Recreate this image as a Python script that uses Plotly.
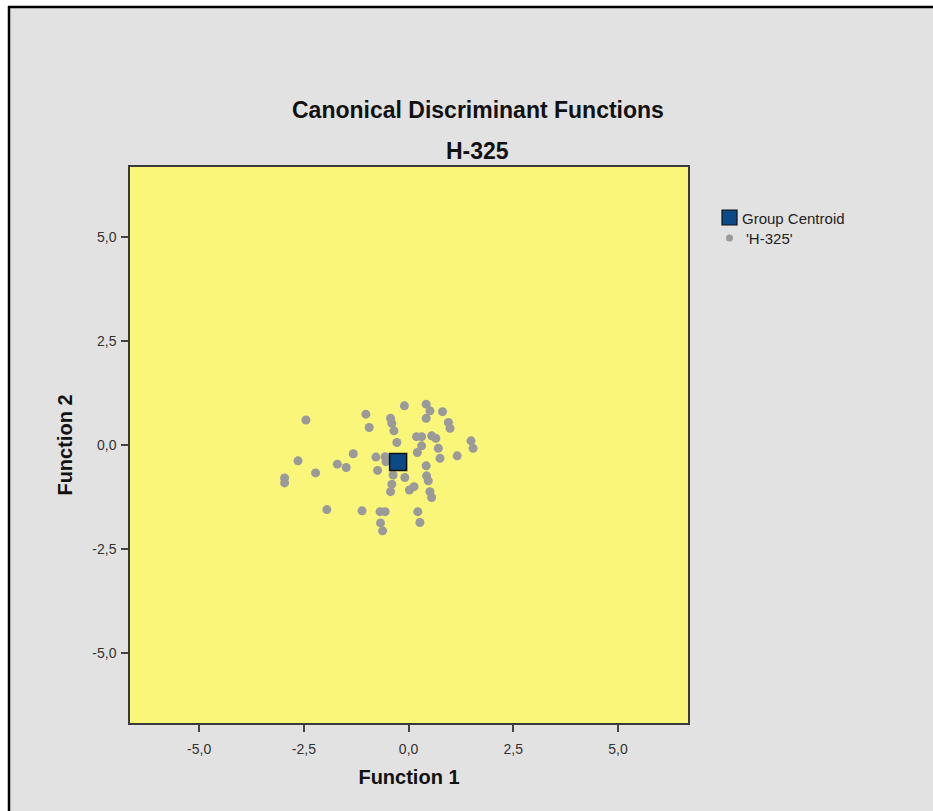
import plotly.graph_objects as go

# Data (discriminant scores, H-325 group)
func1 = [-2.45, -1.02, -0.94, -1.32, -2.64, -1.70, -1.49, -2.22, -2.96, -2.96,
         -1.95, -1.11, -0.68, -0.56, -0.67, -0.62, -0.74, -0.78, -0.56,
         -0.10, 0.42, 0.51, 0.81, -0.43, -0.40, 0.42, 0.95, 0.99, -0.35,
         0.19, 0.31, 0.55, 0.65, -0.28, 1.49, 1.54, 0.31, 0.21, 0.71,
         0.75, 1.16, -0.54, -0.37, -0.09, 0.42, 0.43, 0.47, -0.40, -0.43,
         0.02, 0.13, 0.51, 0.55, 0.22, 0.27]
func2 = [0.60, 0.74, 0.42, -0.21, -0.38, -0.46, -0.54, -0.67, -0.79, -0.91,
         -1.55, -1.58, -1.60, -1.60, -1.87, -2.06, -0.61, -0.29, -0.28,
         0.94, 0.98, 0.82, 0.80, 0.64, 0.52, 0.64, 0.54, 0.40, 0.34,
         0.20, 0.20, 0.22, 0.16, 0.06, 0.10, -0.08, -0.02, -0.18, -0.08,
         -0.32, -0.26, -0.40, -0.72, -0.78, -0.50, -0.74, -0.86, -0.94, -1.12,
         -1.08, -1.00, -1.12, -1.26, -1.60, -1.86]
centroid_x = [-0.25]
centroid_y = [-0.41]

tick_vals = [-5.0, -2.5, 0.0, 2.5, 5.0]
tick_text = ["-5,0", "-2,5", "0,0", "2,5", "5,0"]
legend_labels = ["Group Centroid", "'H-325'"]

FONT = "Liberation Sans, Arial, sans-serif"
BG = "#e2e2e2"
POINT = "#9a9a9a"
CENT = "#0b4a86"

# plot-area pixel geometry
L, R, T, B = 130, 245, 167, 88
W = 933 - L - R
H = 811 - T - B

def px(x):
    return (x - L) / W

def py(y):
    return (811 - B - y) / H

fig = go.Figure()

fig.add_trace(go.Scatter(
    x=func1, y=func2, mode="markers", showlegend=False,
    marker=dict(size=9, color=POINT, line=dict(width=0)),
    hoverinfo="x+y"))
fig.add_trace(go.Scatter(
    x=centroid_x, y=centroid_y, mode="markers", showlegend=False,
    marker=dict(size=17, symbol="square", color=CENT,
                line=dict(width=1.5, color="#111111"))))

axis_common = dict(
    tickvals=tick_vals, ticktext=tick_text,
    showgrid=False, zeroline=False,
    showline=True, linecolor="#3a3a3a", linewidth=1.5, mirror=True,
    ticks="outside", ticklen=7, tickcolor="#444444", tickwidth=1.5,
    tickfont=dict(family=FONT, size=14, color="#333333"),
)

fig.update_layout(
    width=933, height=811,
    margin=dict(l=L, r=R, t=T, b=B, autoexpand=False),
    paper_bgcolor=BG, plot_bgcolor="#faf67a",
    font=dict(family=FONT),
    showlegend=False,
    xaxis=dict(range=[-6.65, 6.67], **axis_common, ticklabelstandoff=5,
               title=dict(text="<b>Function 1</b>", standoff=14,
                          font=dict(family=FONT, size=20, color="#111111"))),
    yaxis=dict(range=[-6.67, 6.67], **axis_common, ticklabelstandoff=2,
               title=dict(text="<b>Function 2</b>", standoff=14,
                          font=dict(family=FONT, size=20, color="#111111"))),
)

# titles
fig.add_annotation(x=px(478), y=py(110), xref="paper", yref="paper",
                   xanchor="center", yanchor="middle",
                   text="<b>Canonical Discriminant Functions</b>", showarrow=False,
                   font=dict(family=FONT, size=23, color="#111111"))
fig.add_annotation(x=px(477), y=py(151), xref="paper", yref="paper",
                   xanchor="center", yanchor="middle",
                   text="<b>H-325</b>", showarrow=False,
                   font=dict(family=FONT, size=23, color="#111111"))

# legend (drawn by hand to match the original's spacing)
fig.add_shape(type="rect", xref="paper", yref="paper",
              x0=px(722), x1=px(737), y0=py(225), y1=py(210),
              fillcolor=CENT, line=dict(width=1.2, color="#111111"))
fig.add_shape(type="circle", xref="paper", yref="paper",
              x0=px(726), x1=px(733), y0=py(241.5), y1=py(234.5),
              fillcolor=POINT, line=dict(width=0))
fig.add_annotation(x=px(740), y=py(218), xref="paper", yref="paper",
                   xanchor="left", yanchor="middle", showarrow=False,
                   text=legend_labels[0],
                   font=dict(family=FONT, size=15, color="#222222"))
fig.add_annotation(x=px(744), y=py(238), xref="paper", yref="paper",
                   xanchor="left", yanchor="middle", showarrow=False,
                   text=legend_labels[1],
                   font=dict(family=FONT, size=15, color="#222222"))

# white strips outside the frame and the frame lines
fig.add_shape(type="rect", xref="paper", yref="paper",
              x0=px(0), x1=px(940), y0=py(0), y1=py(6),
              fillcolor="white", line=dict(width=0), layer="below")
fig.add_shape(type="rect", xref="paper", yref="paper",
              x0=px(0), x1=px(8), y0=py(0), y1=py(820),
              fillcolor="white", line=dict(width=0), layer="below")
fig.add_shape(type="line", xref="paper", yref="paper",
              x0=px(8), x1=px(940), y0=py(7), y1=py(7),
              line=dict(width=2.5, color="black"))
fig.add_shape(type="line", xref="paper", yref="paper",
              x0=px(9), x1=px(9), y0=py(6), y1=py(820),
              line=dict(width=2.5, color="black"))

fig.write_html("out.html")
